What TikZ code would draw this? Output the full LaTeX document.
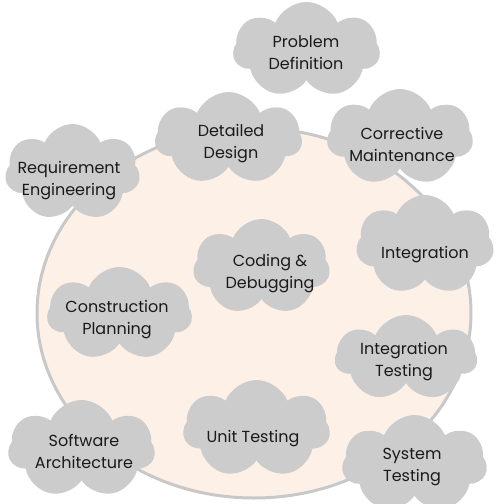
\documentclass[tikz,border=0pt]{standalone}
\usepackage{fontspec}
\setmainfont{Poppins}
\usetikzlibrary{shapes.symbols,shapes.geometric}
\definecolor{cloudgray}{HTML}{CCCCCC}
\definecolor{peach}{HTML}{FDF1E7}
\definecolor{ringgray}{HTML}{C8C8C8}
\definecolor{txt}{HTML}{1A1A1A}
\tikzset{
  phase/.code 2 args={\pgfmathsetmacro\cloudasp{0.85*#1/(#2+6)}%
    \pgfmathsetmacro\cloudh{#2+6}%
    \pgfkeysalso{cloud, cloud puffs=7, cloud puff arc=135,
    fill=cloudgray, draw=none, inner sep=0pt,
    minimum width=#1pt, minimum height=\cloudh pt, aspect=\cloudasp}},
  phasetext/.style={align=center, text=txt, inner sep=0pt,
    font=\fontsize{16}{22}\selectfont}
}
\begin{document}
\begin{tikzpicture}[x=1pt,y=-1pt]
\useasboundingbox (0,0) rectangle (497,504);
\node[ellipse, draw=ringgray, line width=3pt, fill=peach, minimum width=434pt, minimum height=370pt, inner sep=0pt] (ring) at (254,313) {};
\node[phase={147}{90}] (pd) at (306.5,50) {};
\node[phasetext] at (306,53) {Problem\\Definition};
\node[phase={147}{87}] (dd) at (228.5,138.5) {};
\node[phasetext] at (231,144) {Detailed\\Design};
\node[phase={146}{91}] (cm) at (400,137.5) {};
\node[phasetext] at (402,144) {Corrective\\Maintenance};
\node[phase={135}{91}] (re) at (72.5,172.5) {};
\node[phasetext] at (69,181) {Requirement\\Engineering};
\node[phase={138}{94}] (ig) at (425,245) {};
\node[phasetext] at (425,255) {Integration};
\node[phase={137}{90}] (cd) at (261.5,267) {};
\node[phasetext] at (270,274) {Coding \&\\Debugging};
\node[phase={145}{88}] (cp) at (119.5,314) {};
\node[phasetext] at (117,320) {Construction\\Planning};
\node[phase={142}{80}] (it) at (406,358) {};
\node[phasetext] at (404,362) {Integration\\Testing};
\node[phase={147}{92}] (sa) at (81.5,449) {};
\node[phasetext] at (84,451) {Software\\Architecture};
\node[phase={147}{92}] (ut) at (256.5,429) {};
\node[phasetext] at (253,439) {Unit Testing};
\node[phase={145}{92}] (st) at (414.5,464) {};
\node[phasetext] at (412,467) {System\\Testing};
\end{tikzpicture}
\end{document}
